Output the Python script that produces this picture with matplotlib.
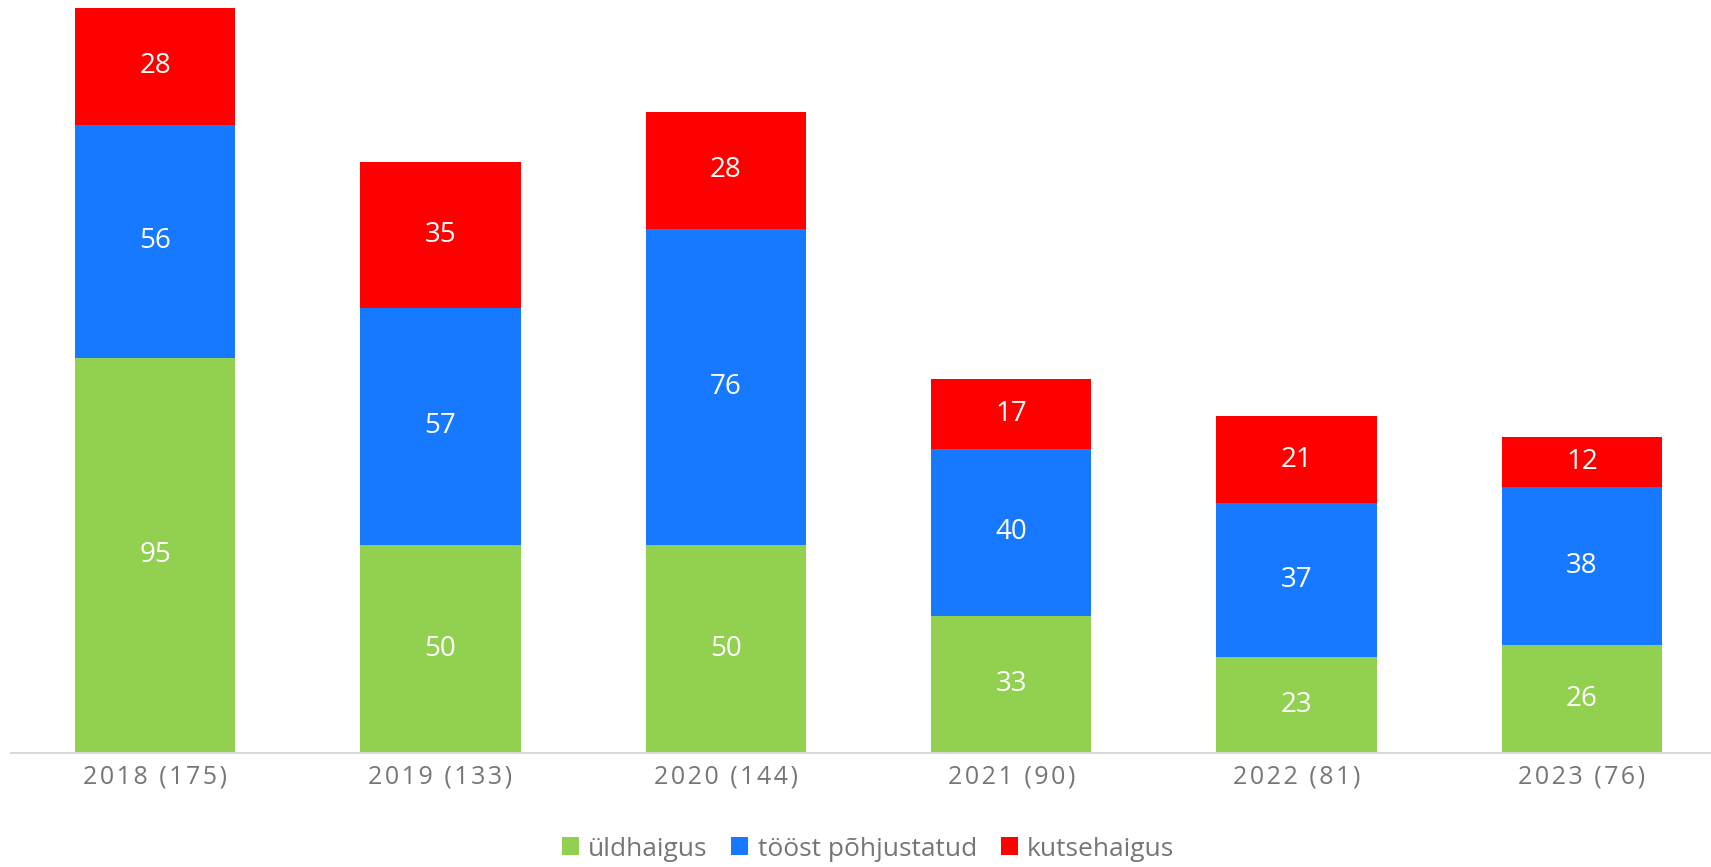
import matplotlib
matplotlib.use("Agg")
import matplotlib.pyplot as plt
import numpy as np

categories = ["2018 (175)", "2019 (133)", "2020 (144)", "2021 (90)", "2022 (81)", "2023 (76)"]
series_names = ["üldhaigus", "tööst põhjustatud", "kutsehaigus"]
uldhaigus = [95, 50, 50, 33, 23, 26]
toost = [56, 57, 76, 40, 37, 38]
kutsehaigus = [28, 35, 28, 17, 21, 12]
colors = ["#92D050", "#1779FF", "#FF0000"]

plt.rcParams['font.family'] = ['Open Sans', 'DejaVu Sans']

fig = plt.figure(figsize=(17.11, 8.67), dpi=100)
ax = fig.add_axes([11/1711, 1 - 753/867, 1 - 11/1711, 749/867])

x = np.arange(len(categories))
bottom = np.zeros(len(categories))
handles = []
for name, vals, c in zip(series_names, [uldhaigus, toost, kutsehaigus], colors):
    vals = np.array(vals, dtype=float)
    b = ax.bar(x, vals, width=0.562, bottom=bottom, color=c, label=name, zorder=2)
    handles.append(b)
    for xi, v, bt in zip(x, vals, bottom):
        ax.text(xi, bt + v / 2, f"{int(v)}", ha="center", va="center",
                color="white", fontsize=20, zorder=3)
    bottom += vals

ax.set_xlim(-0.5046, 5.452)
ax.set_ylim(0, 180)
ax.set_yticks([])
ax.set_xticks(x)
spaced = ["\u200a".join(list(c)) for c in categories]
ax.set_xticklabels(spaced, fontsize=18, color="#767676")
ax.tick_params(axis="x", length=0, pad=8)
for s in ["top", "right", "left"]:
    ax.spines[s].set_visible(False)
ax.spines["bottom"].set_color("#D9D9D9")
ax.spines["bottom"].set_linewidth(1.5)

fig.legend(handles=handles, labels=series_names, loc="center",
           bbox_to_anchor=(868/1711, 1 - 849/867), ncol=3, frameon=False,
           fontsize=19, labelcolor="#767676", handlelength=0.65, handleheight=0.65,
           handletextpad=0.35, columnspacing=0.9)

fig.savefig("out.png", dpi=100)
